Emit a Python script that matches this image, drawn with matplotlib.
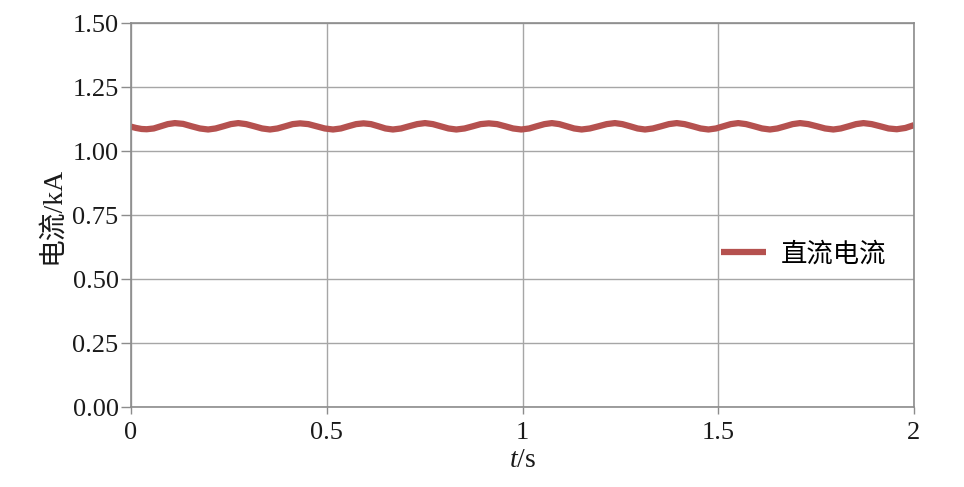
import matplotlib
matplotlib.use("Agg")
import matplotlib.pyplot as plt

plt.rcParams['font.family'] = ['Liberation Serif', 'Noto Sans CJK SC', 'DejaVu Sans']
plt.rcParams['mathtext.fontset'] = 'custom'
plt.rcParams['mathtext.it'] = 'Liberation Serif:italic'
plt.rcParams['mathtext.rm'] = 'Liberation Serif'

# DC current (time in s, current in kA)
t_s = [
    0.000, 0.013, 0.027,
    0.040, 0.058, 0.076, 0.094,
    0.112, 0.133, 0.155, 0.176,
    0.197, 0.216, 0.236, 0.255,
    0.274, 0.294, 0.315, 0.335,
    0.355, 0.374, 0.394, 0.413,
    0.432, 0.453, 0.474, 0.495,
    0.516, 0.536, 0.555, 0.575,
    0.594, 0.613, 0.632, 0.650,
    0.669, 0.690, 0.710, 0.731,
    0.751, 0.771, 0.791, 0.811,
    0.831, 0.852, 0.873, 0.893,
    0.914, 0.935, 0.956, 0.976,
    0.997, 1.017, 1.036, 1.056,
    1.075, 1.094, 1.113, 1.132,
    1.151, 1.172, 1.194, 1.215,
    1.236, 1.255, 1.275, 1.294,
    1.313, 1.333, 1.354, 1.374,
    1.394, 1.414, 1.435, 1.455,
    1.475, 1.494, 1.513, 1.532,
    1.551, 1.571, 1.592, 1.612,
    1.632, 1.651, 1.671, 1.690,
    1.709, 1.730, 1.752, 1.773,
    1.794, 1.813, 1.833, 1.852,
    1.871, 1.892, 1.914, 1.935,
    1.956, 1.978, 2.000,
]
i_ka = [
    1.095, 1.090, 1.086,
    1.085, 1.088, 1.0965, 1.105,
    1.109, 1.106, 1.0965, 1.088,
    1.084, 1.088, 1.0965, 1.105,
    1.109, 1.105, 1.0965, 1.088,
    1.084, 1.088, 1.0965, 1.105,
    1.108, 1.105, 1.0965, 1.088,
    1.084, 1.088, 1.0965, 1.105,
    1.108, 1.105, 1.0965, 1.088,
    1.084, 1.088, 1.0965, 1.105,
    1.109, 1.105, 1.0965, 1.088,
    1.084, 1.088, 1.0965, 1.105,
    1.108, 1.105, 1.0965, 1.088,
    1.084, 1.088, 1.0965, 1.105,
    1.109, 1.105, 1.0965, 1.088,
    1.084, 1.088, 1.0965, 1.105,
    1.109, 1.105, 1.0965, 1.088,
    1.084, 1.088, 1.0965, 1.105,
    1.109, 1.105, 1.0965, 1.088,
    1.084, 1.088, 1.0965, 1.105,
    1.109, 1.105, 1.0965, 1.088,
    1.084, 1.088, 1.0965, 1.105,
    1.109, 1.105, 1.0965, 1.088,
    1.084, 1.088, 1.0965, 1.105,
    1.109, 1.105, 1.0965, 1.088,
    1.085, 1.090, 1.101,
]

x_ticks = [0, 0.5, 1, 1.5, 2]
x_ticklabels = ['0', '0.5', '1', '1.5', '2']
y_ticks = [0.00, 0.25, 0.50, 0.75, 1.00, 1.25, 1.50]
y_ticklabels = ['0.00', '0.25', '0.50', '0.75', '1.00', '1.25', '1.50']
series_label = '直流电流'

fig = plt.figure(figsize=(9.64, 4.87), dpi=100)
ax = fig.add_axes([131/964, 80/487, 783/964, 384/487])

ax.plot(t_s, i_ka, color='#b5514f', lw=4.5, label=series_label, solid_capstyle='butt')

ax.set_xlim(0, 2)
ax.set_ylim(0, 1.5)
ax.set_xticks(x_ticks)
ax.set_xticklabels(x_ticklabels)
ax.set_yticks(y_ticks)
ax.set_yticklabels(y_ticklabels)
ax.grid(True, color='#a6a6a6', lw=1.0)
ax.set_axisbelow(True)
for sp in ax.spines.values():
    sp.set_color('#8c8c8c')
    sp.set_linewidth(1.2)
ax.tick_params(axis='both', colors='#8c8c8c', labelcolor='#1a1a1a', labelsize=19,
               width=1.0, direction='out')
ax.tick_params(axis='y', pad=2, length=7)
ax.tick_params(axis='x', pad=6, length=5)

ax.set_xlabel('$t$/s', fontsize=20, labelpad=3, color='#1a1a1a')
ax.set_ylabel('电流/kA', fontsize=20, labelpad=5, color='#1a1a1a',
              family=['Liberation Serif', 'Noto Sans CJK SC'])

leg = ax.legend(loc='center right', bbox_to_anchor=(0.995, 0.398), frameon=False,
                handlelength=1.7, handletextpad=0.55,
                prop={'family': ['Noto Sans CJK SC'], 'size': 19})

fig.savefig('out.png', dpi=100)
